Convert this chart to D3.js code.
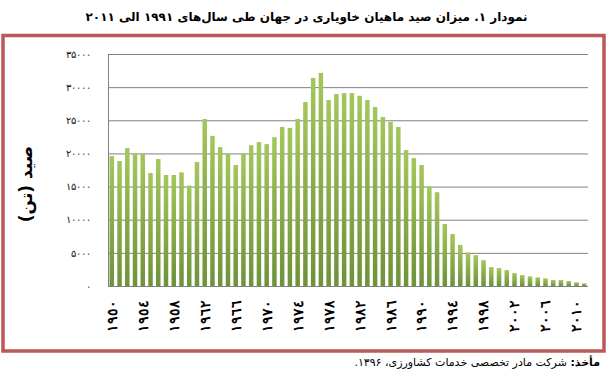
<!DOCTYPE html>
<html lang="fa">
<head>
<meta charset="utf-8">
<script src="https://cdn.jsdelivr.net/npm/d3@7/dist/d3.min.js"></script>
<style>
  html, body { margin: 0; padding: 0; background: #fff; }
  svg { display: block; font-family: "DejaVu Sans", "Noto Sans", sans-serif; }
  .grid line { stroke: #808080; stroke-width: 1; }
  .axis-x text { font-size: 14px; font-weight: bold; fill: #000; }
  .axis-y text { font-size: 10px; fill: #111; }
</style>
</head>
<body>
<div id="chart"></div>
<script>
// سال‌ها و میزان صید (تن)
const years = d3.range(1950, 2012);
const catchTons = [
  19600, 18850, 20800, 19950, 19950, 17050, 19150, 16750, 16750, 17150,
  15150, 18700, 25200, 22650, 20950, 19950, 18250, 19950, 21250, 21700,
  21400, 22450, 24000, 23850, 25200, 27750, 31400, 32150, 28050, 28950,
  29100, 29100, 28700, 28050, 27000, 25500, 24750, 24000, 20500, 19300,
  18250, 15050, 14150, 9350, 7850, 6200, 5050, 4650, 3900, 2850,
  2700, 2400, 1950, 1650, 1450, 1300, 1150, 900, 900, 750,
  550, 400
];
const labelYears = d3.range(1950, 2011, 4);
const yTicks = [0, 5000, 10000, 15000, 20000, 25000, 30000, 35000];

const titleText = "نمودار ۱. میزان صید ماهیان خاویاری در جهان طی سال‌های ۱۹۹۱ الی ۲۰۱۱";
const yLabel = "صید (تن)";
const sourceBold = "مأخذ:";
const sourceText = " شرکت مادر تخصصی خدمات کشاورزی، ۱۳۹۶.";

(() => {
  const arabicDigits = s => String(s).replace(/\d/g, c => "٠١٢٣٤٥٦٧٨٩"[c]);
  const persianDigits = s => String(s).replace(/\d/g, c => "۰۱۲۳۴۵۶۷۸۹"[c]);

  const width = 609, height = 378;
  const plot = { left: 108, right: 588, top: 54, bottom: 286 };

  const svg = d3.select("#chart").append("svg")
    .attr("width", width).attr("height", height);

  // gradient for bars
  const grad = svg.append("defs").append("linearGradient")
    .attr("id", "barGrad").attr("x1", 0).attr("y1", 0).attr("x2", 0).attr("y2", 1);
  grad.append("stop").attr("offset", "0%").attr("stop-color", "#a4c75c");
  grad.append("stop").attr("offset", "100%").attr("stop-color", "#6f9139");

  // title
  svg.append("text")
    .attr("x", width / 2 + 2).attr("y", 21)
    .attr("text-anchor", "middle")
    .attr("direction", "rtl")
    .style("font-size", "12px").style("font-weight", "bold")
    .text(titleText);

  // frame
  svg.append("rect")
    .attr("x", 3).attr("y", 35.5)
    .attr("width", 601).attr("height", 315.5)
    .attr("fill", "none")
    .attr("stroke", "#b95a56").attr("stroke-width", 3.5);

  // scales
  const x = d3.scaleBand()
    .domain(years)
    .range([plot.left, plot.right])
    .paddingInner(0.42).paddingOuter(0.2);

  const y = d3.scaleLinear()
    .domain([0, 35000])
    .range([plot.bottom, plot.top]);

  // grid
  svg.append("g").attr("class", "grid")
    .attr("transform", `translate(${plot.left},0)`)
    .call(d3.axisLeft(y).tickValues(yTicks).tickSize(-(plot.right - plot.left)).tickFormat(""))
    .call(g => g.select(".domain").remove());

  svg.append("line")
    .attr("x1", plot.left + 0.5).attr("x2", plot.left + 0.5)
    .attr("y1", plot.top).attr("y2", plot.bottom)
    .attr("stroke", "#808080");

  // bars
  svg.selectAll("rect.bar")
    .data(years.map((yr, i) => ({ yr, v: catchTons[i] })))
    .join("rect")
    .attr("class", "bar")
    .attr("x", d => x(d.yr))
    .attr("y", d => y(d.v))
    .attr("width", x.bandwidth())
    .attr("height", d => y(0) - y(d.v))
    .attr("fill", "url(#barGrad)");

  // y axis labels
  svg.append("g").attr("class", "axis-y")
    .attr("transform", `translate(${plot.left},0)`)
    .call(d3.axisLeft(y).tickValues(yTicks).tickSize(0).tickPadding(17)
      .tickFormat(d => persianDigits(d)))
    .call(g => g.select(".domain").remove());

  // x axis labels (rotated)
  svg.append("g").attr("class", "axis-x")
    .attr("transform", `translate(0,${plot.bottom})`)
    .call(d3.axisBottom(x).tickValues(labelYears).tickSize(0)
      .tickFormat(d => arabicDigits(d)))
    .call(g => g.select(".domain").remove())
    .selectAll("text")
    .attr("transform", "rotate(-90)")
    .attr("text-anchor", "end")
    .attr("x", -14).attr("y", 0).attr("dy", "0.35em");

  // y title
  svg.append("text")
    .attr("transform", "translate(26,184) rotate(-90)")
    .attr("text-anchor", "middle")
    .attr("dy", "0.35em")
    .attr("direction", "rtl")
    .style("font-size", "17px").style("font-weight", "bold")
    .text(yLabel);

  // source
  const src = svg.append("text")
    .attr("x", 600).attr("y", 366)
    .attr("text-anchor", "start")
    .attr("direction", "rtl")
    .style("font-size", "11px");
  src.append("tspan").style("font-weight", "bold").text(sourceBold);
  src.append("tspan").text(sourceText);
})();
</script>
</body>
</html>
